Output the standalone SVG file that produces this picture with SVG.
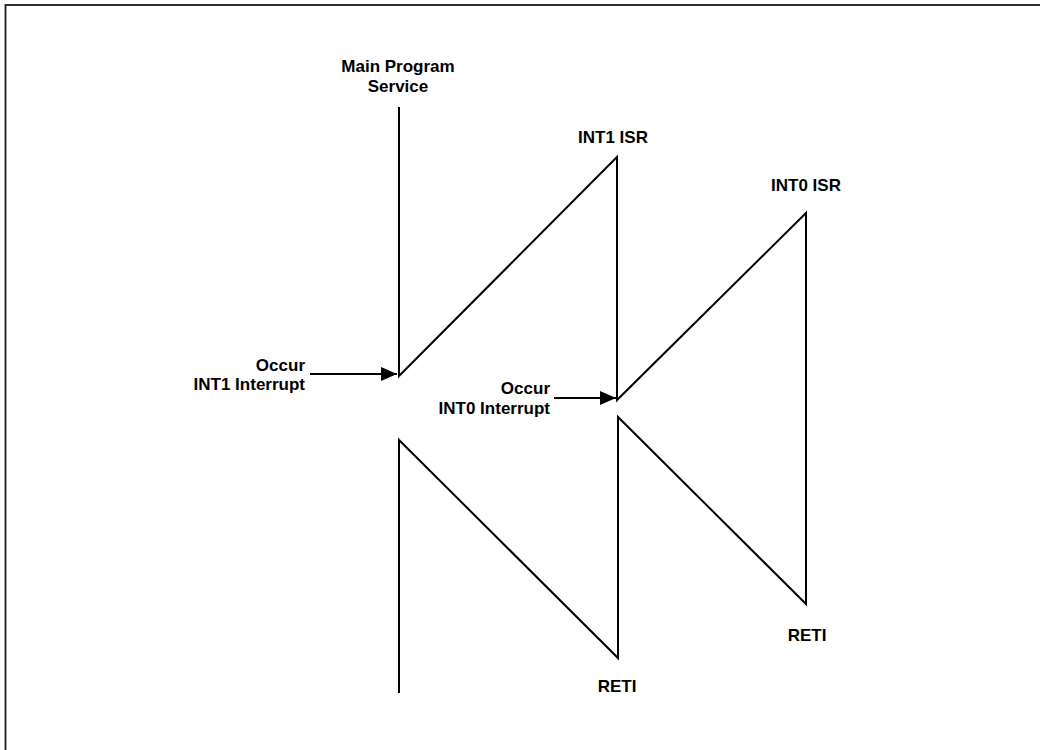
<svg xmlns="http://www.w3.org/2000/svg" width="1040" height="750" viewBox="0 0 1040 750">
  <style>
    .lbl { font-family: "Liberation Sans", Arial, sans-serif; font-weight: bold; font-size: 17px; fill: #000; }
    .mid { text-anchor: middle; }
    .end { text-anchor: end; }
    .ln { fill: none; stroke: #000; stroke-width: 2; stroke-linejoin: miter; stroke-linecap: butt; }
  </style>
  <defs>
    <marker id="arrow" viewBox="0 0 16 14" refX="16" refY="7" markerWidth="16" markerHeight="14" markerUnits="userSpaceOnUse" orient="auto">
      <path d="M0,0 L16,7 L0,14 Z" fill="#000"/>
    </marker>
  </defs>
  <rect x="0" y="0" width="1040" height="750" fill="#fff"/>
  <rect x="5.5" y="5" width="1100" height="800" fill="none" stroke="#1a1a1a" stroke-width="1.8"/>

  <g id="connectors">
    <path class="ln" d="M399,107 L399,376 L617,157 L617,400 L806,213 L806,604 L618,417 L618,658 L399,440 L399,693"/>
    <line class="ln" x1="310" y1="374" x2="397" y2="374" marker-end="url(#arrow)"/>
    <line class="ln" x1="554" y1="398" x2="616" y2="398" marker-end="url(#arrow)"/>
  </g>

  <g id="main-program">
    <text class="lbl mid" x="398" y="72">Main Program</text>
    <text class="lbl mid" x="398" y="92">Service</text>
  </g>
  <g id="int1-isr">
    <text class="lbl mid" x="613" y="143">INT1 ISR</text>
  </g>
  <g id="int0-isr">
    <text class="lbl mid" x="806" y="191">INT0 ISR</text>
  </g>
  <g id="int1-interrupt">
    <text class="lbl end" x="305" y="371">Occur</text>
    <text class="lbl end" x="305" y="390">INT1 Interrupt</text>
  </g>
  <g id="int0-interrupt">
    <text class="lbl end" x="550" y="394">Occur</text>
    <text class="lbl end" x="550" y="414">INT0 Interrupt</text>
  </g>
  <g id="reti-int1">
    <text class="lbl mid" x="617" y="692">RETI</text>
  </g>
  <g id="reti-int0">
    <text class="lbl mid" x="807" y="641">RETI</text>
  </g>
</svg>
